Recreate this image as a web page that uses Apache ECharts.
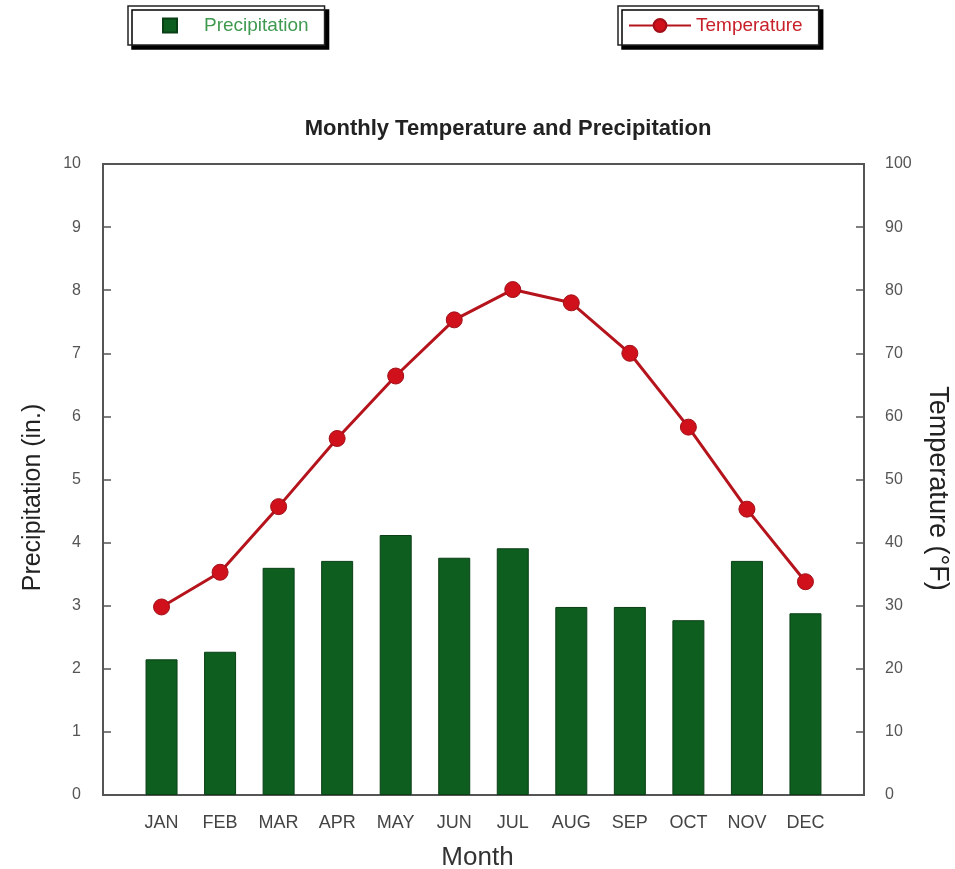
<!DOCTYPE html>
<html>
<head>
<meta charset="utf-8">
<script src="https://cdn.jsdelivr.net/npm/echarts@6/dist/echarts.min.js"></script>
<style>html,body{margin:0;padding:0;background:#fff;}#c{width:955px;height:869px;}</style>
</head>
<body>
<div id="c"></div>
<script>
const months = ['JAN','FEB','MAR','APR','MAY','JUN','JUL','AUG','SEP','OCT','NOV','DEC'];
const precipitation = [2.15, 2.27, 3.6, 3.71, 4.12, 3.76, 3.91, 2.98, 2.98, 2.77, 3.71, 2.88];
const temperature = [29.8, 35.3, 45.7, 56.5, 66.4, 75.3, 80.1, 78.0, 70.0, 58.3, 45.3, 33.8];
const leftTicks = [0, 10, 1];
const rightTicks = [0, 100, 10];

const precipData = precipitation.map((v, i) => [i, v]);
const tempData = temperature.map((v, i) => [i, v]);

const chart = echarts.init(document.getElementById('c'));
const legendBox = {
  top: 6, orient: 'horizontal', backgroundColor: '#fff', borderColor: '#222', borderWidth: 1.5,
  shadowColor: '#000', shadowBlur: 0, shadowOffsetX: 4, shadowOffsetY: 4
};
chart.setOption({
  animation: false,
  textStyle: {fontFamily: 'Liberation Sans'},
  title: {
    text: 'Monthly Temperature and Precipitation', left: 503, textAlign: 'center', top: 113,
    textStyle: {fontSize: 22, fontWeight: 'bold', color: '#222', fontFamily: 'Liberation Sans'}
  },
  legend: [
    Object.assign({}, legendBox, {
      left: 128, data: [{name: 'Precipitation', icon: 'rect'}], itemWidth: 14, itemHeight: 14,
      padding: [10, 16, 10, 34], textStyle: {fontSize: 19, color: '#3f9a50', padding: [0, 0, 0, 22], fontFamily: 'Liberation Sans'}
    }),
    Object.assign({}, legendBox, {
      left: 618, data: [{name: 'Temperature'}], itemWidth: 62, itemHeight: 16,
      padding: [10, 16, 10, 10], textStyle: {fontSize: 19, color: '#c8202a', fontFamily: 'Liberation Sans'}
    })
  ],
  grid: {left: 103, right: 91, top: 164, bottom: 74, show: true, borderColor: '#555', borderWidth: 2,
    backgroundColor: 'transparent', containLabel: false, outerBoundsMode: 'none'},
  xAxis: {
    type: 'value', min: -1, max: 12, interval: 1,
    name: 'Month', nameLocation: 'middle', nameGap: 50,
    nameTextStyle: {fontSize: 26, color: '#333', padding: [0, 12, 0, 0]},
    axisLine: {show: true, onZero: false, lineStyle: {color: '#555', width: 2}},
    axisTick: {show: false},
    splitLine: {show: false},
    axisLabel: {fontSize: 18, color: '#444', margin: 19, formatter: v => months[v] || ''}
  },
  yAxis: [
    {
      type: 'value', min: leftTicks[0], max: leftTicks[1], interval: leftTicks[2], position: 'left',
      name: 'Precipitation (in.)', nameLocation: 'middle', nameGap: 57,
      nameTextStyle: {fontSize: 25, color: '#222', padding: [0, 36, 0, 0]},
      axisLine: {show: true, onZero: false, lineStyle: {color: '#555', width: 2}},
      axisTick: {show: true, inside: true, length: 8, lineStyle: {color: '#555', width: 1.5}},
      axisLabel: {fontSize: 16, color: '#555', margin: 22},
      splitLine: {show: false}
    },
    {
      type: 'value', min: rightTicks[0], max: rightTicks[1], interval: rightTicks[2], position: 'right',
      name: 'Temperature (°F)', nameLocation: 'middle', nameGap: 60, nameRotate: -90,
      nameTextStyle: {fontSize: 27, color: '#222', padding: [0, 0, 0, 18]},
      axisLine: {show: true, onZero: false, lineStyle: {color: '#555', width: 2}},
      axisTick: {show: true, inside: true, length: 8, lineStyle: {color: '#555', width: 1.5}},
      axisLabel: {fontSize: 16, color: '#555', margin: 21},
      splitLine: {show: false}
    }
  ],
  series: [
    {
      name: 'Precipitation', type: 'bar', yAxisIndex: 0, data: precipData, barWidth: 32,
      itemStyle: {color: '#0e5e20', borderColor: '#0a3f15', borderWidth: 1}
    },
    {
      name: 'Temperature', type: 'line', yAxisIndex: 1, data: tempData,
      symbol: 'circle', symbolSize: 16,
      lineStyle: {color: '#b5141c', width: 3},
      itemStyle: {color: '#d0101a', borderColor: '#a01018', borderWidth: 1}
    }
  ]
});
</script>
</body>
</html>
